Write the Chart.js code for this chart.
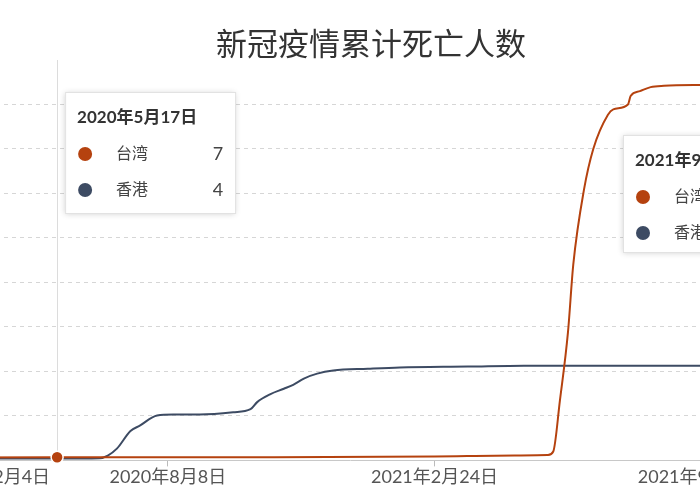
<!DOCTYPE html>
<html><head><meta charset="utf-8">
<script src="https://cdn.jsdelivr.net/npm/chart.js@4"></script>
<style>
html,body{margin:0;padding:0;width:700px;height:500px;overflow:hidden;background:#fff}
#wrap{position:absolute;left:-100px;top:0;width:900px;height:500px}
</style></head><body>
<div id="wrap"><canvas id="c" width="900" height="500"></canvas></div>
<script>
// day numbers counted from 2020-01-01 (day 0)
const twDays = [19, 137, 300, 420, 480, 505, 509, 514, 520, 524, 532, 539, 550, 554, 565, 567, 574, 582, 592, 620, 694];
const twVals = [6, 7, 7, 9, 11, 12, 20, 135, 287, 440, 608, 700, 777, 789, 800, 819, 830, 839, 842, 844, 845];
const hkDays = [19, 90, 137, 169, 175, 182, 192, 199, 212, 224, 244, 269, 282, 287, 297, 307, 314, 322, 332, 344, 370, 394, 445, 487, 620, 694];
const hkVals = [1, 4, 4, 5, 11, 27, 66, 78, 101, 103, 103, 108, 115, 131, 149, 161, 170, 184, 195, 202, 206, 209, 211, 213, 213, 213];
const tickDays = [88, 220, 420, 620];
const tickLabels = ['2020年2月4日', '2020年8月8日', '2021年2月24日', '2021年9月12日'];
const seriesNames = ['台湾', '香港'];
const seriesColors = ['#b5420f', '#3d4b63'];
const hoverDay = 137;
const tip1Title = '2020年5月17日';
const tip1Vals = ['7', '4'];
const tip2Title = '2021年9月12日';
const FONT = 'Lato, "Noto Sans CJK SC", sans-serif';

const toPts = (d, v) => d.map((x, i) => ({x, y: v[i]}));

function drawTip(ctx, x, y, w, h, title, vals) {
  ctx.save();
  ctx.shadowColor = 'rgba(0,0,0,0.18)'; ctx.shadowBlur = 6; ctx.shadowOffsetY = 1;
  ctx.fillStyle = '#fff'; ctx.fillRect(x, y, w, h);
  ctx.restore();
  ctx.save();
  ctx.strokeStyle = '#e2e2e2'; ctx.lineWidth = 1; ctx.strokeRect(x + .5, y + .5, w, h);
  ctx.fillStyle = '#333'; ctx.textBaseline = 'middle';
  ctx.font = 'bold 17px ' + FONT; ctx.fillText(title, x + 12, y + 26);
  seriesNames.forEach((n, i) => {
    const ry = y + 62 + i * 36;
    ctx.beginPath(); ctx.arc(x + 20, ry, 7, 0, Math.PI * 2); ctx.fillStyle = seriesColors[i]; ctx.fill();
    ctx.fillStyle = '#444'; ctx.font = '16px ' + FONT; ctx.fillText(n, x + 51, ry);
    if (vals) { ctx.textAlign = 'right'; ctx.font = '18px ' + FONT; ctx.fillText(vals[i], x + w - 12, ry); ctx.textAlign = 'left'; }
  });
  ctx.restore();
}

const overlay = {
  id: 'overlay',
  beforeDatasetsDraw(chart) {
    const ctx = chart.ctx, xs = chart.scales.x, a = chart.chartArea;
    ctx.save(); ctx.strokeStyle = '#dcdcdc'; ctx.lineWidth = 1;
    const hx = Math.round(xs.getPixelForValue(hoverDay)) + .5;
    ctx.beginPath(); ctx.moveTo(hx, a.top); ctx.lineTo(hx, a.bottom); ctx.stroke();
    ctx.restore();
  },
  afterDraw(chart) {
    const ctx = chart.ctx, xs = chart.scales.x, ys = chart.scales.y;
    ctx.save();
    ctx.fillStyle = '#333'; ctx.font = '31px ' + FONT; ctx.textAlign = 'center'; ctx.textBaseline = 'middle';
    ctx.fillText('新冠疫情累计死亡人数', 471, 45);
    ctx.restore();
    const px = xs.getPixelForValue(hoverDay), py = ys.getPixelForValue(7);
    ctx.save(); ctx.beginPath(); ctx.arc(px, py, 6, 0, Math.PI * 2);
    ctx.fillStyle = seriesColors[0]; ctx.fill(); ctx.strokeStyle = '#fff'; ctx.lineWidth = 1.5; ctx.stroke(); ctx.restore();
    drawTip(ctx, xs.getPixelForValue(hoverDay) + 8, 92, 170, 121, tip1Title, tip1Vals);
    drawTip(ctx, 723, 135, 170, 117, tip2Title, null);
  }
};

new Chart(document.getElementById('c'), {
  type: 'line',
  data: { datasets: [
    { label: seriesNames[0], data: toPts(twDays, twVals), borderColor: seriesColors[0], borderWidth: 2, pointRadius: 0, cubicInterpolationMode: 'monotone' },
    { label: seriesNames[1], data: toPts(hkDays, hkVals), borderColor: seriesColors[1], borderWidth: 2, pointRadius: 0, cubicInterpolationMode: 'monotone' }
  ]},
  options: {
    responsive: false, animation: false,
    layout: { padding: { top: 60, left: 0, right: 0, bottom: 12 } },
    plugins: { legend: { display: false }, tooltip: { enabled: false } },
    scales: {
      x: { type: 'linear', min: 19.2, max: 694,
        afterBuildTicks: s => { s.ticks = tickDays.map(v => ({value: v})); },
        ticks: { callback: (v) => tickLabels[tickDays.indexOf(v)] ?? '', color: '#555', font: { size: 18, family: FONT }, maxRotation: 0, autoSkip: false, padding: 0 },
        grid: { display: true, drawOnChartArea: false, tickLength: 6, color: '#bbb' },
        border: { color: '#c8c8c8', width: 1 } },
      y: { display: true, min: 0, max: 900,
        ticks: { display: false, stepSize: 100 },
        grid: { drawTicks: false, color: ctx => (ctx.tick.value > 0 && ctx.tick.value < 900) ? '#d6d6d6' : 'rgba(0,0,0,0)' },
        border: { display: false, dash: [4, 4] } }
    }
  },
  plugins: [overlay]
});
</script></body></html>
